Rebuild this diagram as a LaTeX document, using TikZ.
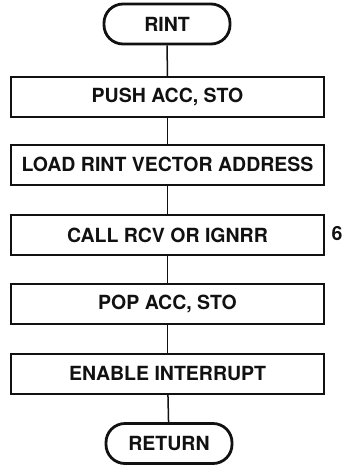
\documentclass[tikz,border=0pt]{standalone}
\usepackage{fontspec}
\setsansfont{TeX Gyre Heros}
\usetikzlibrary{positioning}
\definecolor{flowInk}{HTML}{111111}
\tikzset{
  every picture/.style={font=\sffamily\bfseries\fontsize{19.5}{23}\selectfont, text=flowInk},
  flow box/.style={draw=flowInk, line width=2pt, fill=white, align=center,
    minimum width=313pt, minimum height=40pt, inner sep=0pt},
  flow term/.style={draw=flowInk, line width=2.8pt, fill=white, align=center,
    minimum width=126pt, minimum height=40pt, rounded corners=19pt, inner sep=0pt},
  flow link/.style={draw=flowInk, line width=1.5pt}
}
\begin{document}
\begin{tikzpicture}[x=1pt,y=-1pt]
  \useasboundingbox (0,0) rectangle (348,467);
  \node[flow term] (rint)   at (167,24)    {RINT};
  \node[flow box]  (push)   at (167.5,97)  {PUSH ACC, STO};
  \node[flow box]  (load)   at (167.5,164.5) {LOAD RINT VECTOR ADDRESS};
  \node[flow box]  (call)   at (167.5,235) {CALL RCV OR IGNRR};
  \node[flow box]  (pop)    at (167.5,303.5) {POP ACC, STO};
  \node[flow box]  (enable) at (167.5,373.5) {ENABLE INTERRUPT};
  \node[flow term] (return) at (169,443.5) {RETURN};
  \node (page) at (337,234) {6};
  \draw[flow link] (rint) -- (push);
  \draw[flow link] (push) -- (load);
  \draw[flow link] (load) -- (call);
  \draw[flow link] (call) -- (pop);
  \draw[flow link] (pop) -- (enable);
  \draw[flow link] (enable) -- (return);
\end{tikzpicture}
\end{document}
